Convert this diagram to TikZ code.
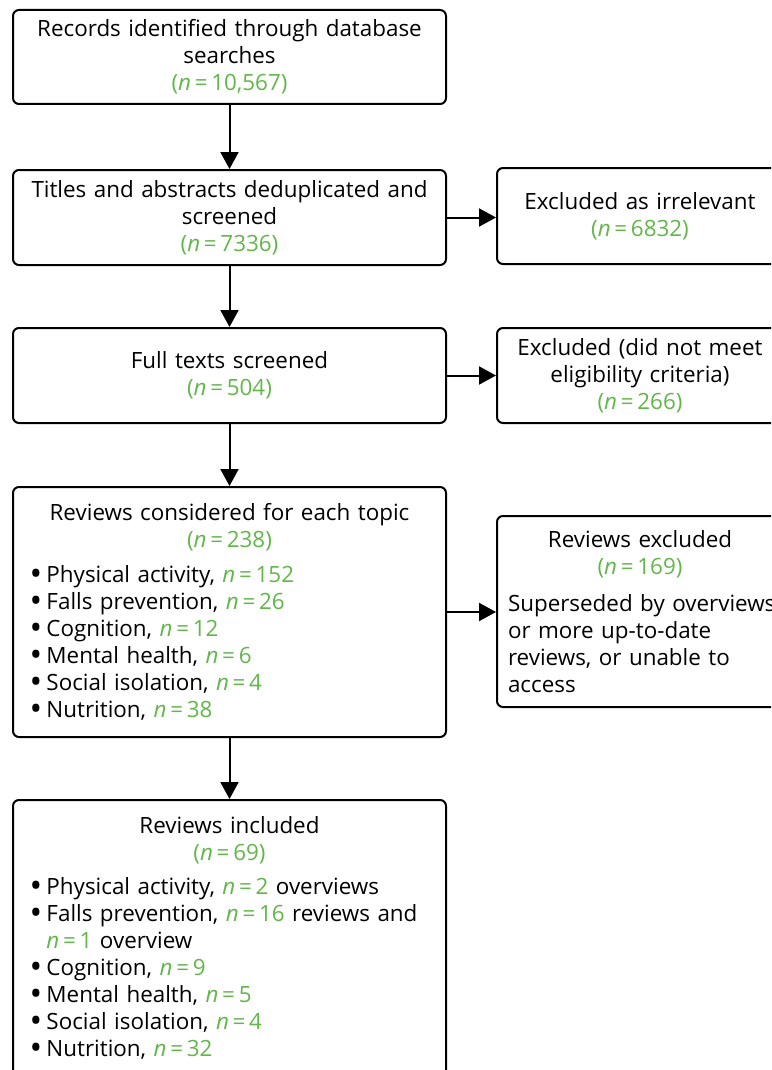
\documentclass[tikz,border=0pt]{standalone}
\usepackage{fontspec}
\setmainfont{Open Sans}
\usepackage{xcolor}
\usepackage{tikz}
\usetikzlibrary{arrows.meta}
\definecolor{ngreen}{RGB}{98,182,74}
\newcommand{\ncount}[1]{\textcolor{ngreen}{(\textit{n}\,=\,#1)}}
\newcommand{\nval}[1]{\textcolor{ngreen}{\textit{n}\,=\,#1}}
\newcommand{\itm}{\makebox[8.5pt][l]{\raisebox{-1.4pt}{\scalebox{1.5}{\textbullet}}}}

\tikzset{
  box/.style={draw, line width=1pt, rounded corners=3pt, inner sep=0pt,
    font=\fontsize{11.2}{13.5}\selectfont},
  mainbox/.style={box, minimum width=216.5pt, text width=200pt},
  sidebox/.style={box, minimum width=143pt, text width=132pt},
  flow/.style={line width=1pt, -{Triangle[length=8.5pt,width=9pt]}}
}

\begin{document}
\begin{tikzpicture}[x=0.5pt,y=-0.5pt]
	\pgfmathsetmacro{\mainX}{229.5}
	\pgfmathsetmacro{\sideX}{640}
	\useasboundingbox (0,0) rectangle (771,1070);
	\clip (0,0) rectangle (771,1070);

	% main column
\node[mainbox, minimum height=47pt, align=center] (records) at (\mainX,57)
	{Records identified through database\\searches\\\ncount{10,567}};
\node[mainbox, minimum height=47.5pt, align=center] (screened) at (\mainX,217.5)
	{Titles and abstracts deduplicated and\\screened\\\ncount{7336}};
\node[mainbox, minimum height=47.5pt, align=center] (fulltext) at (\mainX,375.5)
	{Full texts screened\\\ncount{504}};
\node[mainbox, minimum height=125pt, align=left] (considered) at (\mainX,612)
	{{\centering Reviews considered for each topic\\\ncount{238}\par}\vspace{4pt}
	\itm Physical activity, \nval{152}\\
	\itm Falls prevention, \nval{26}\\
	\itm Cognition, \nval{12}\\
	\itm Mental health, \nval{6}\\
	\itm Social isolation, \nval{4}\\
	\itm Nutrition, \nval{38}};
\node[mainbox, minimum height=138pt, align=left] (included) at (\mainX,938)
	{{\centering Reviews included\\\ncount{69}\par}\vspace{3.5pt}
	\itm Physical activity, \nval{2} overviews\\
	\itm Falls prevention, \nval{16} reviews and\\
	\hspace*{8.5pt}\nval{1} overview\\
	\itm Cognition, \nval{9}\\
	\itm Mental health, \nval{5}\\
	\itm Social isolation, \nval{4}\\
	\itm Nutrition, \nval{32}};

	% exclusions
\node[sidebox, minimum height=48pt, align=center] (irrelevant) at (\sideX,216)
	{Excluded as irrelevant\\\ncount{6832}};
\node[sidebox, minimum height=47.5pt, align=center] (ineligible) at (\sideX,375.5)
	{Excluded (did not meet\\eligibility criteria)\\\ncount{266}};
\node[sidebox, minimum height=95.5pt, align=left] (excluded) at (\sideX,611.5)
	{{\centering Reviews excluded\\\ncount{169}\par}\vspace{5pt}
	\mbox{Superseded by overviews}\\or more up-to-date\\reviews, or unable to\\access};

\foreach \a/\b in {records/screened,screened/fulltext,fulltext/considered,considered/included} {
	\draw[flow] (\a) -- (\b);
}
\foreach \a/\b in {screened/irrelevant,fulltext/ineligible,considered/excluded} {
	\draw[flow] (\a.east) -- (\a.east -| \b.west);
}
\end{tikzpicture}
\end{document}
